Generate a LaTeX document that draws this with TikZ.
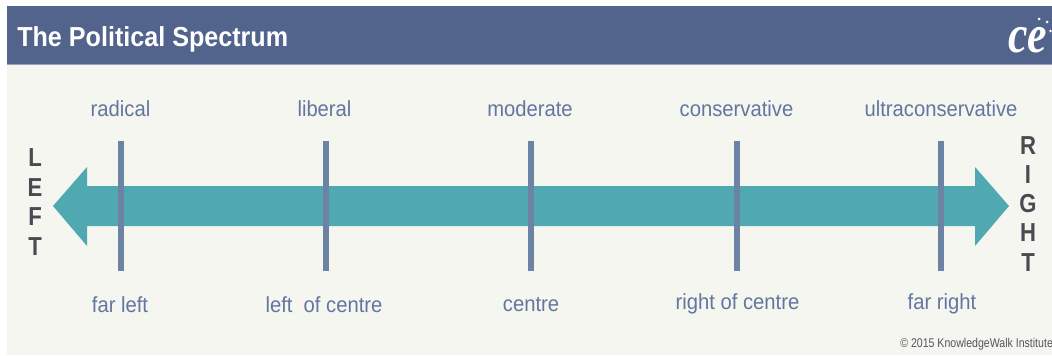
\documentclass[tikz,border=0pt]{standalone}
\usepackage{graphicx}
\usepackage{fontspec}
\setmainfont{Liberation Sans}
\newfontfamily\logofont{Liberation Serif}
\definecolor{headblue}{HTML}{52648C}
\definecolor{panelbg}{HTML}{F5F6F0}
\definecolor{arrowteal}{HTML}{50A8B0}
\definecolor{barblue}{HTML}{6D83A3}
\definecolor{labelblue}{HTML}{6276A0}
\definecolor{sidegray}{HTML}{4A4A50}
\definecolor{copygray}{HTML}{55565A}
\newcommand{\nrw}[2]{\scalebox{#1}[1]{#2}}
\tikzset{
  x=0.75pt,y=-0.75pt,
  toplabel/.style={text=labelblue,font=\fontsize{16.4}{18}\selectfont,inner sep=0pt,anchor=center},
  sideword/.style={text=sidegray,font=\fontsize{19.5}{22.1}\bfseries\selectfont,inner sep=0pt,anchor=center},
  tickbar/.style={draw=barblue,line width=4.5pt},
}
\begin{document}
\begin{tikzpicture}
\useasboundingbox (0,0) rectangle (1052,356);
\fill[white] (0,0) rectangle (1052,356);
\fill[panelbg] (7,64) rectangle (1052,355);
\fill[headblue] (7,6) rectangle (1052,64);
\draw[line width=0.75pt,color=headblue!60!white] (7,64.5) -- (1052,64.5);
\node[text=white,font=\fontsize{20.6}{24}\bfseries\selectfont,anchor=base west,inner sep=0pt] (title) at (17,47) {\nrw{0.915}{The Political Spectrum}};
\node[text=white,font=\fontsize{40}{40}\logofont\bfseries\itshape\selectfont,anchor=base west,inner sep=0pt] (logo) at (1008,53) {\nrw{0.82}{ce}};
\fill[white] (1039,19) circle (1.5) (1047,22) circle (1.5) (1050.5,31) circle (1.3);
\node[text=copygray,font=\fontsize{9.5}{10}\selectfont,anchor=base west,inner sep=0pt] (copy) at (900,347) {\nrw{0.835}{© 2015 KnowledgeWalk Institute}};
% double arrow
\fill[arrowteal] (53,206) -- (87,167) -- (87,186) -- (975,186) -- (975,167) -- (1009,206) -- (975,246) -- (975,226) -- (87,226) -- (87,246) -- cycle;
% ticks
\foreach \n/\px in {a/120.5,b/325.5,c/530.5,d/736.5,e/941}{
  \coordinate (\n t) at (\px,141);
  \coordinate (\n b) at (\px,270.5);
  \draw[tickbar] (\n t) -- (\n b);
}
\node[toplabel] (radical) at (120.5,109) {\nrw{0.925}{radical}};
\node[toplabel] (liberal) at (324.5,109) {\nrw{0.925}{liberal}};
\node[toplabel] (moderate) at (530,109) {\nrw{0.925}{moderate}};
\node[toplabel] (conservative) at (736.5,109) {\nrw{0.925}{conservative}};
\node[toplabel] (ultra) at (941,109) {\nrw{0.925}{ultraconservative}};
\node[toplabel] (farleft) at (120,305) {\nrw{0.925}{far left}};
\node[toplabel] (leftc) at (324,305) {\nrw{0.925}{left\ \ of centre}};
\node[toplabel] (centre) at (531,305) {\nrw{0.925}{centre}};
\node[toplabel] (rightc) at (737.5,304) {\nrw{0.925}{right of centre}};
\node[toplabel] (farright) at (942,304) {\nrw{0.925}{far right}};
\foreach \n/\c/\py in {la/L/158,lb/E/188,lc/F/217,ld/T/247}{
  \node[sideword] (\n) at (35,\py) {\nrw{0.85}{\c}};
}
\foreach \n/\c/\py in {ra/R/146,rb/I/175,rc/G/204,rd/H/233,re/T/263}{
  \node[sideword] (\n) at (1028,\py) {\nrw{0.85}{\c}};
}
\end{tikzpicture}
\end{document}
